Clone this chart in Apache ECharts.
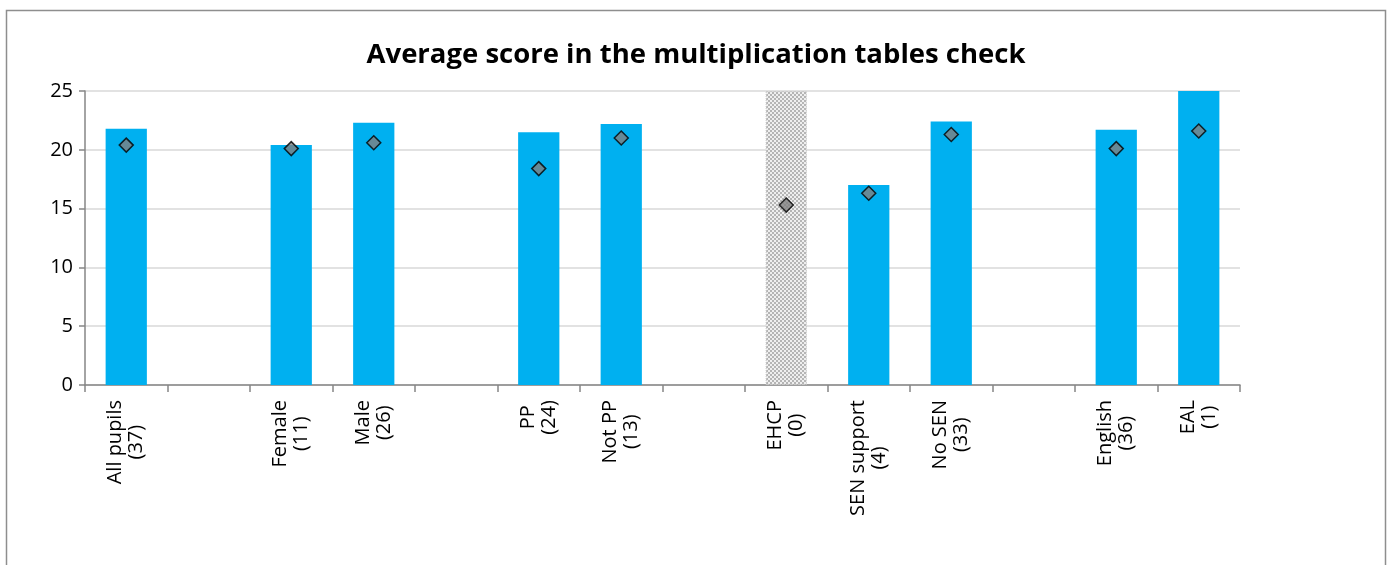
<!DOCTYPE html>
<html>
<head>
<meta charset="utf-8">
<script src="https://cdn.jsdelivr.net/npm/echarts@6/dist/echarts.min.js"></script>
<style>
  html, body { margin: 0; padding: 0; background: #ffffff; }
  #chart { width: 1392px; height: 565px; }
</style>
</head>
<body>
<div id="chart"></div>
<script>
// ---- data ----
var categories = [
  'All pupils\n(37)', '', 'Female\n(11)', 'Male\n(26)', '', 'PP\n(24)', 'Not PP\n(13)', '',
  'EHCP\n(0)', 'SEN support\n(4)', 'No SEN\n(33)', '', 'English\n(36)', 'EAL\n(1)'
];
var schoolScores   = [21.8, null, 20.4, 22.3, null, 21.5, 22.2, null, null, 17.0, 22.4, null, 21.7, 25.0];
var nationalScores = [20.4, null, 20.1, 20.6, null, 18.4, 21.0, null, 15.3, 16.3, 21.3, null, 20.1, 21.6];
var noDataBars     = [null, null, null, null, null, null, null, null, 25, null, null, null, null, null];
var yTicks = { min: 0, max: 25, interval: 5 };
var titleText = 'Average score in the multiplication tables check';

// ---- pattern for "no data" bar ----
var pat = document.createElement('canvas');
pat.width = 4; pat.height = 4;
var pc = pat.getContext('2d');
pc.fillStyle = '#efefef'; pc.fillRect(0, 0, 4, 4);
pc.fillStyle = '#b5b5b5'; pc.fillRect(0, 0, 2, 2); pc.fillRect(2, 2, 2, 2);

var FONT = '"Open Sans", "Noto Sans", sans-serif';
var chart = echarts.init(document.getElementById('chart'), null, { renderer: 'canvas' });

chart.setOption({
  animation: false,
  backgroundColor: '#ffffff',
  title: {
    text: titleText,
    left: 'center',
    top: 36,
    textStyle: { fontFamily: FONT, fontSize: 27.5, fontWeight: 'bold', color: '#000000' }
  },
  graphic: [{
    type: 'rect',
    shape: { x: 6.5, y: 10.5, width: 1379, height: 620 },
    style: { fill: 'none', stroke: '#8e8e8e', lineWidth: 1.5 },
    silent: true
  }],
  grid: { left: 85, right: 152, top: 91, bottom: 180, containLabel: false },
  xAxis: {
    type: 'category',
    data: categories,
    axisLine: { show: true, lineStyle: { color: '#868686', width: 1.5 } },
    axisTick: { show: true, length: 7, lineStyle: { color: '#868686', width: 1.5 } },
    axisLabel: {
      interval: 0,
      rotate: 90,
      margin: 15,
      fontFamily: FONT,
      fontSize: 20,
      color: '#000000',
      formatter: function (v) {
        if (!v) return '';
        return v.split('\n').map(function (s) { return '{c|' + s + '}'; }).join('\n');
      },
      rich: {
        c: { align: 'center', fontFamily: FONT, fontSize: 20, color: '#000000', lineHeight: 21 }
      }
    },
    splitLine: { show: false }
  },
  yAxis: {
    type: 'value',
    min: yTicks.min,
    max: yTicks.max,
    interval: yTicks.interval,
    axisLine: { show: true, lineStyle: { color: '#868686', width: 1.5 } },
    axisTick: { show: true, length: 6, lineStyle: { color: '#868686', width: 1.5 } },
    axisLabel: { margin: 12, fontFamily: FONT, fontSize: 20, color: '#000000' },
    splitLine: { show: true, lineStyle: { color: '#d9d9d9', width: 1.5 } }
  },
  series: [
    {
      name: 'School',
      type: 'bar',
      data: schoolScores,
      barWidth: '50%',
      itemStyle: { color: '#00b0f0' },
      z: 2
    },
    {
      name: 'No data',
      type: 'bar',
      data: noDataBars,
      barWidth: '50%',
      barGap: '-100%',
      itemStyle: { color: { image: pat, repeat: 'repeat' }, borderColor: '#c8c8c8', borderWidth: 1, borderType: 'dotted' },
      z: 2
    },
    {
      name: 'National',
      type: 'scatter',
      data: nationalScores,
      symbol: 'diamond',
      symbolSize: 14,
      itemStyle: { color: '#808080', borderColor: '#000000', borderWidth: 1.5 },
      z: 5
    }
  ]
});
</script>
</body>
</html>
